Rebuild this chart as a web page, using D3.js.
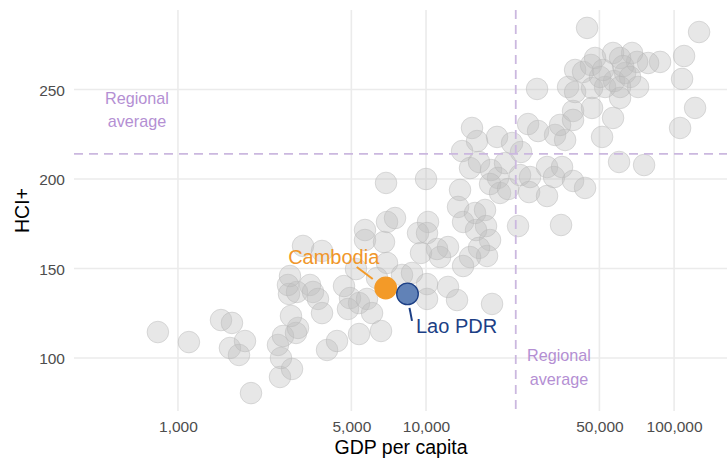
<!DOCTYPE html>
<html><head><meta charset="utf-8">
<script src="https://cdn.jsdelivr.net/npm/d3@7"></script>
<style>body{margin:0;background:#fff;} svg{display:block;}</style>
</head><body>
<svg id="c" width="727" height="459"></svg>
<script>
// GDP per capita of the other countries (grey points)
const gdp = [830,1107,1491,1651,1620,1863,1762,1970,2578,2883,2602,2530,2651,2991,3047,2855,2803,3019,2829,2776,3192,3808,3406,3502,3668,3808,
3990,4377,4670,4937,5369,4846,5782,6059,5369,6586,5220,5675,5675,6771,6962,7499,6962,6345,8002,8780,10093,10093,6899,10000,
10188,9285,10093,9546,13460,14104,15760,17292,17455,15907,18120,17620,16353,15045,14104,12266,11390,11078,12266,13335,18457,23496,35025,
13713,15325,16055,19332,22225,24160,13975,15045,16353,18290,19511,18120,19878,21410,20822,23935,26262,26030,30750,30750,32812,35345,39147,43762,
25790,28290,33130,36360,34700,39147,39147,46700,51250,56750,60570,28030,60000,75690,105720,121520,44590,126100,109720,107700,
39900,42970,46270,37380,39900,46700,52700,57290,63470,87800,78590,70920,67710,56750,48030,60570,62300,66460,50300,51720,71580,60570];
// HCI+ of the other countries
const hci = [114.5,108.9,121.2,119.6,105.6,109.5,101.7,80.4,89.4,93.9,100.0,107.3,112.3,114.0,116.8,123.5,135.8,136.9,145.8,140.8,162.6,159.8,140.8,136.9,133.0,125.1,
104.5,109.5,140.2,133.5,130.7,127.4,133.0,125.1,113.4,115.1,149.7,171.5,165.9,164.8,176.0,178.2,153.1,144.7,146.4,147.5,141.3,133.0,197.8,200.0,
176.0,169.8,169.8,158.7,184.4,176.0,181.0,182.7,173.7,171.5,165.9,157.0,161.5,156.4,151.4,162.0,156.4,160.9,139.7,132.4,130.2,173.7,174.3,
193.9,228.5,221.2,223.5,220.1,215.1,215.6,206.1,209.5,205.0,200.6,197.2,192.2,194.4,208.9,202.2,201.1,192.7,190.5,206.7,201.1,206.7,198.9,195.0,
230.7,226.8,224.6,221.8,230.2,238.0,233.0,239.7,223.5,234.1,245.3,250.3,209.5,207.8,228.5,239.7,284.4,282.1,268.7,255.9,
260.9,259.8,263.7,251.4,248.6,250.8,251.4,254.7,259.2,265.4,264.8,265.4,270.4,270.4,267.6,267.6,263.1,257.0,257.0,260.9,251.4,251.4];

const hlNames = ["Cambodia", "Lao PDR"];
const hlGdp = [6880, 8420];
const hlHci = [139.1, 135.8];

const regionalGdp = 23000;
const regionalHci = 214;

const xTicks = [1000, 5000, 10000, 50000, 100000];
const yTicks = [100, 150, 200, 250];

const svg = d3.select("#c");
const L = 74, R = 722, T = 10, B = 411;
const x = d3.scaleLog().domain([381, 156000]).range([L, R]);
const y = d3.scaleLinear().domain([70.4, 294.4]).range([B, T]);
const font = "'Liberation Sans', Arial, sans-serif";

// grid
svg.append("g").selectAll("line").data(xTicks).join("line")
  .attr("x1", d => x(d)).attr("x2", d => x(d)).attr("y1", T).attr("y2", B)
  .attr("stroke", "#ebebeb").attr("stroke-width", 1.6);
svg.append("g").selectAll("line").data(yTicks).join("line")
  .attr("y1", d => y(d)).attr("y2", d => y(d)).attr("x1", L).attr("x2", 727)
  .attr("stroke", "#ebebeb").attr("stroke-width", 1.6);

// axes
const xAxis = d3.axisBottom(x).tickValues(xTicks).tickFormat(d3.format(",")).tickSize(0).tickPadding(0);
const gx = svg.append("g").attr("transform", `translate(0,${B})`).call(xAxis);
gx.select(".domain").remove();
gx.selectAll("text").attr("dy", null).attr("y", 21).attr("fill", "#4d4d4d")
  .style("font-family", font).style("font-size", "15.5px");
const yAxis = d3.axisLeft(y).tickValues(yTicks).tickSize(0).tickPadding(0);
const gy = svg.append("g").attr("transform", `translate(65,0)`).call(yAxis);
gy.select(".domain").remove();
gy.selectAll("text").attr("dy", "0.36em").attr("x", 0).attr("fill", "#4d4d4d")
  .style("font-family", font).style("font-size", "15.5px");

// axis titles
svg.append("text").attr("x", (L + R) / 2 + 3).attr("y", 454).attr("text-anchor", "middle")
  .style("font-family", font).style("font-size", "19.5px").attr("fill", "#000").text("GDP per capita");
svg.append("text").attr("transform", `translate(29,${(T + B) / 2 + 0}) rotate(-90)`).attr("text-anchor", "middle")
  .style("font-family", font).style("font-size", "19.5px").attr("fill", "#000").text("HCI+");

// grey points
const pts = gdp.map((g, i) => ({g, h: hci[i]}));
svg.append("g").selectAll("circle").data(pts).join("circle")
  .attr("cx", d => x(d.g)).attr("cy", d => y(d.h)).attr("r", 10.8)
  .attr("fill", "#bdbdbd").attr("fill-opacity", 0.36)
  .attr("stroke", "#b5b5b5").attr("stroke-opacity", 0.45).attr("stroke-width", 1);

// regional average lines
const dashCol = "#cbb8df";
svg.append("line").attr("x1", x(regionalGdp)).attr("x2", x(regionalGdp)).attr("y1", T).attr("y2", B)
  .attr("stroke", dashCol).attr("stroke-width", 1.8).attr("stroke-dasharray", "9,6");
svg.append("line").attr("x1", L).attr("x2", 727).attr("y1", y(regionalHci)).attr("y2", y(regionalHci))
  .attr("stroke", dashCol).attr("stroke-width", 1.8).attr("stroke-dasharray", "9,6");

const labCol = "#b48fd3";
function regLabel(cx, y1) {
  const t = svg.append("text").attr("text-anchor", "middle").attr("fill", labCol)
    .style("font-family", font).style("font-size", "16.2px");
  t.append("tspan").attr("x", cx).attr("y", y1).text("Regional");
  t.append("tspan").attr("x", cx).attr("y", y1 + 23.5).text("average");
}
regLabel(137, 103.5);
regLabel(559, 361);

// highlighted points
const hlFill = ["#f39a28", "#6182b7"];
const hlStroke = ["#f39a28", "#1c3f85"];
const hl = hlNames.map((n, i) => ({n, g: hlGdp[i], h: hlHci[i]}));
svg.append("g").selectAll("circle").data(hl).join("circle")
  .attr("cx", d => x(d.g)).attr("cy", d => y(d.h)).attr("r", 10.8)
  .attr("fill", (d, i) => hlFill[i]).attr("stroke", (d, i) => hlStroke[i]).attr("stroke-width", 1.3);

// connectors & labels
const cX = x(hlGdp[0]), cY = y(hlHci[0]);
svg.append("line").attr("x1", cX - 29).attr("y1", cY - 21).attr("x2", cX - 13).attr("y2", cY - 9)
  .attr("stroke", "#f39a28").attr("stroke-width", 2);
svg.append("text").attr("x", cX - 52).attr("y", cY - 24).attr("text-anchor", "middle").attr("fill", "#f0962a")
  .style("font-family", font).style("font-size", "20px").text("Cambodia");
const lX = x(hlGdp[1]), lY = y(hlHci[1]);
svg.append("line").attr("x1", lX + 2).attr("y1", lY + 14).attr("x2", lX + 4.5).attr("y2", lY + 27)
  .attr("stroke", "#1c3f85").attr("stroke-width", 2);
svg.append("text").attr("x", lX + 8.5).attr("y", lY + 39).attr("text-anchor", "start").attr("fill", "#1c3f85")
  .style("font-family", font).style("font-size", "20px").text("Lao PDR");
</script>
</body></html>
